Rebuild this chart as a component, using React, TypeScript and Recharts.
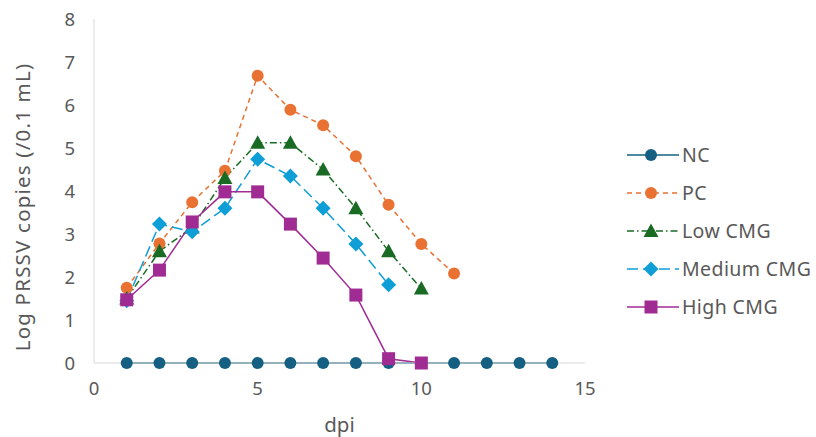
import React from "react";
import { LineChart, Line, XAxis, YAxis, Legend } from "recharts";

const dpi = [1, 2, 3, 4, 5, 6, 7, 8, 9, 10, 11, 12, 13, 14];
const nc = [0, 0, 0, 0, 0, 0, 0, 0, 0, 0, 0, 0, 0, 0];
const pc = [1.75, 2.78, 3.74, 4.47, 6.68, 5.89, 5.53, 4.81, 3.68, 2.77, 2.08];
const lowCmg = [1.5, 2.6, 3.15, 4.3, 5.12, 5.12, 4.5, 3.6, 2.6, 1.73];
const mediumCmg = [1.45, 3.23, 3.05, 3.6, 4.74, 4.35, 3.6, 2.77, 1.82];
const highCmg = [1.47, 2.16, 3.28, 3.98, 3.98, 3.23, 2.44, 1.58, 0.1, 0];
const xTicks = [0, 5, 10, 15];
const yTicks = [0, 1, 2, 3, 4, 5, 6, 7, 8];

const FONT = "'Noto Sans', sans-serif";
const TEXT = "#595959";

type Shape = "circle" | "triangle" | "diamond" | "square";
const series: { key: string; name: string; color: string; dash?: string; shape: Shape; values: number[] }[] = [
  { key: "nc", name: "NC", color: "#156082", shape: "circle", values: nc },
  { key: "pc", name: "PC", color: "#E97132", dash: "5 4", shape: "circle", values: pc },
  { key: "low", name: "Low CMG", color: "#196B24", dash: "7 3 1.5 3", shape: "triangle", values: lowCmg },
  { key: "med", name: "Medium CMG", color: "#0F9ED5", dash: "11 5", shape: "diamond", values: mediumCmg },
  { key: "high", name: "High CMG", color: "#A02B93", shape: "square", values: highCmg },
];

const data = dpi.map((d, i) => {
  const row: Record<string, number | null> = { dpi: d };
  series.forEach((s) => {
    row[s.key] = i < s.values.length ? s.values[i] : null;
  });
  return row;
});

function marker(shape: Shape, color: string, cx: number, cy: number, k?: string | number) {
  if (shape === "circle") return <circle key={k} cx={cx} cy={cy} r={6} fill={color} />;
  if (shape === "square") return <rect key={k} x={cx - 6.5} y={cy - 6.5} width={13} height={13} fill={color} />;
  if (shape === "triangle")
    return <polygon key={k} points={`${cx},${cy - 7.5} ${cx + 7.5},${cy + 6} ${cx - 7.5},${cy + 6}`} fill={color} />;
  return <polygon key={k} points={`${cx},${cy - 7.5} ${cx + 7.5},${cy} ${cx},${cy + 7.5} ${cx - 7.5},${cy}`} fill={color} />;
}

const makeDot = (shape: Shape, color: string) => (props: any) => {
  const { cx, cy, index } = props;
  if (cx == null || cy == null || props.value == null) return <g key={`e${index}`} />;
  return marker(shape, color, cx, cy, `d${index}`);
};

const LegendContent = () => (
  <svg width={189} height={200} style={{ overflow: "visible" }}>
    {series.map((s, i) => {
      const y = 20 + i * 38;
      return (
        <g key={s.key}>
          <line x1={0} x2={52} y1={y} y2={y} stroke={s.color} strokeWidth={1.5} strokeDasharray={s.dash} />
          {marker(s.shape, s.color, 24, y)}
          <text x={55} y={y} dy="0.36em" fontSize={19.5} fill={TEXT} fontFamily={FONT} style={{ letterSpacing: "0.4px" }}>
            {s.name}
          </text>
        </g>
      );
    })}
  </svg>
);

export default function App() {
  return (
    <div style={{ position: "absolute", left: 0, top: 0, width: 816, height: 437, background: "#fff" }}>
      <LineChart width={816} height={437} data={data} margin={{ top: 19, right: 231, bottom: 44, left: 0 }}>
        <XAxis
          dataKey="dpi"
          type="number"
          domain={[0, 15]}
          ticks={xTicks}
          tickLine={false}
          tickSize={6}
          tickMargin={13}
          stroke="#d9d9d9"
          tick={{ fill: TEXT, fontSize: 18.5, fontFamily: FONT }}
          label={{ value: "dpi", position: "bottom", offset: 24, fill: TEXT, fontSize: 20.5, fontFamily: FONT }}
        />
        <YAxis
          type="number"
          domain={[0, 8]}
          ticks={yTicks}
          width={94}
          tickLine={false}
          tickSize={6}
          tickMargin={13}
          stroke="#d9d9d9"
          tick={{ fill: TEXT, fontSize: 18.5, fontFamily: FONT }}
          label={{
            value: "Log PRSSV copies (/0.1 mL)",
            angle: -90,
            position: "insideLeft",
            dx: 18,
            dy: 16,
            fill: TEXT,
            fontSize: 20.5,
            fontFamily: FONT,
            style: { textAnchor: "middle", letterSpacing: "1.2px" },
          }}
        />
        <Legend
          layout="vertical"
          align="center"
          verticalAlign="middle"
          content={LegendContent}
          wrapperStyle={{ position: "absolute", left: 627, top: 135, width: 189, height: 200 }}
        />
        {series.map((s) => (
          <Line
            key={s.key}
            dataKey={s.key}
            name={s.name}
            stroke={s.color}
            strokeWidth={1.5}
            strokeDasharray={s.dash}
            dot={makeDot(s.shape, s.color)}
            activeDot={false}
            isAnimationActive={false}
            connectNulls={false}
          />
        ))}
      </LineChart>
    </div>
  );
}
